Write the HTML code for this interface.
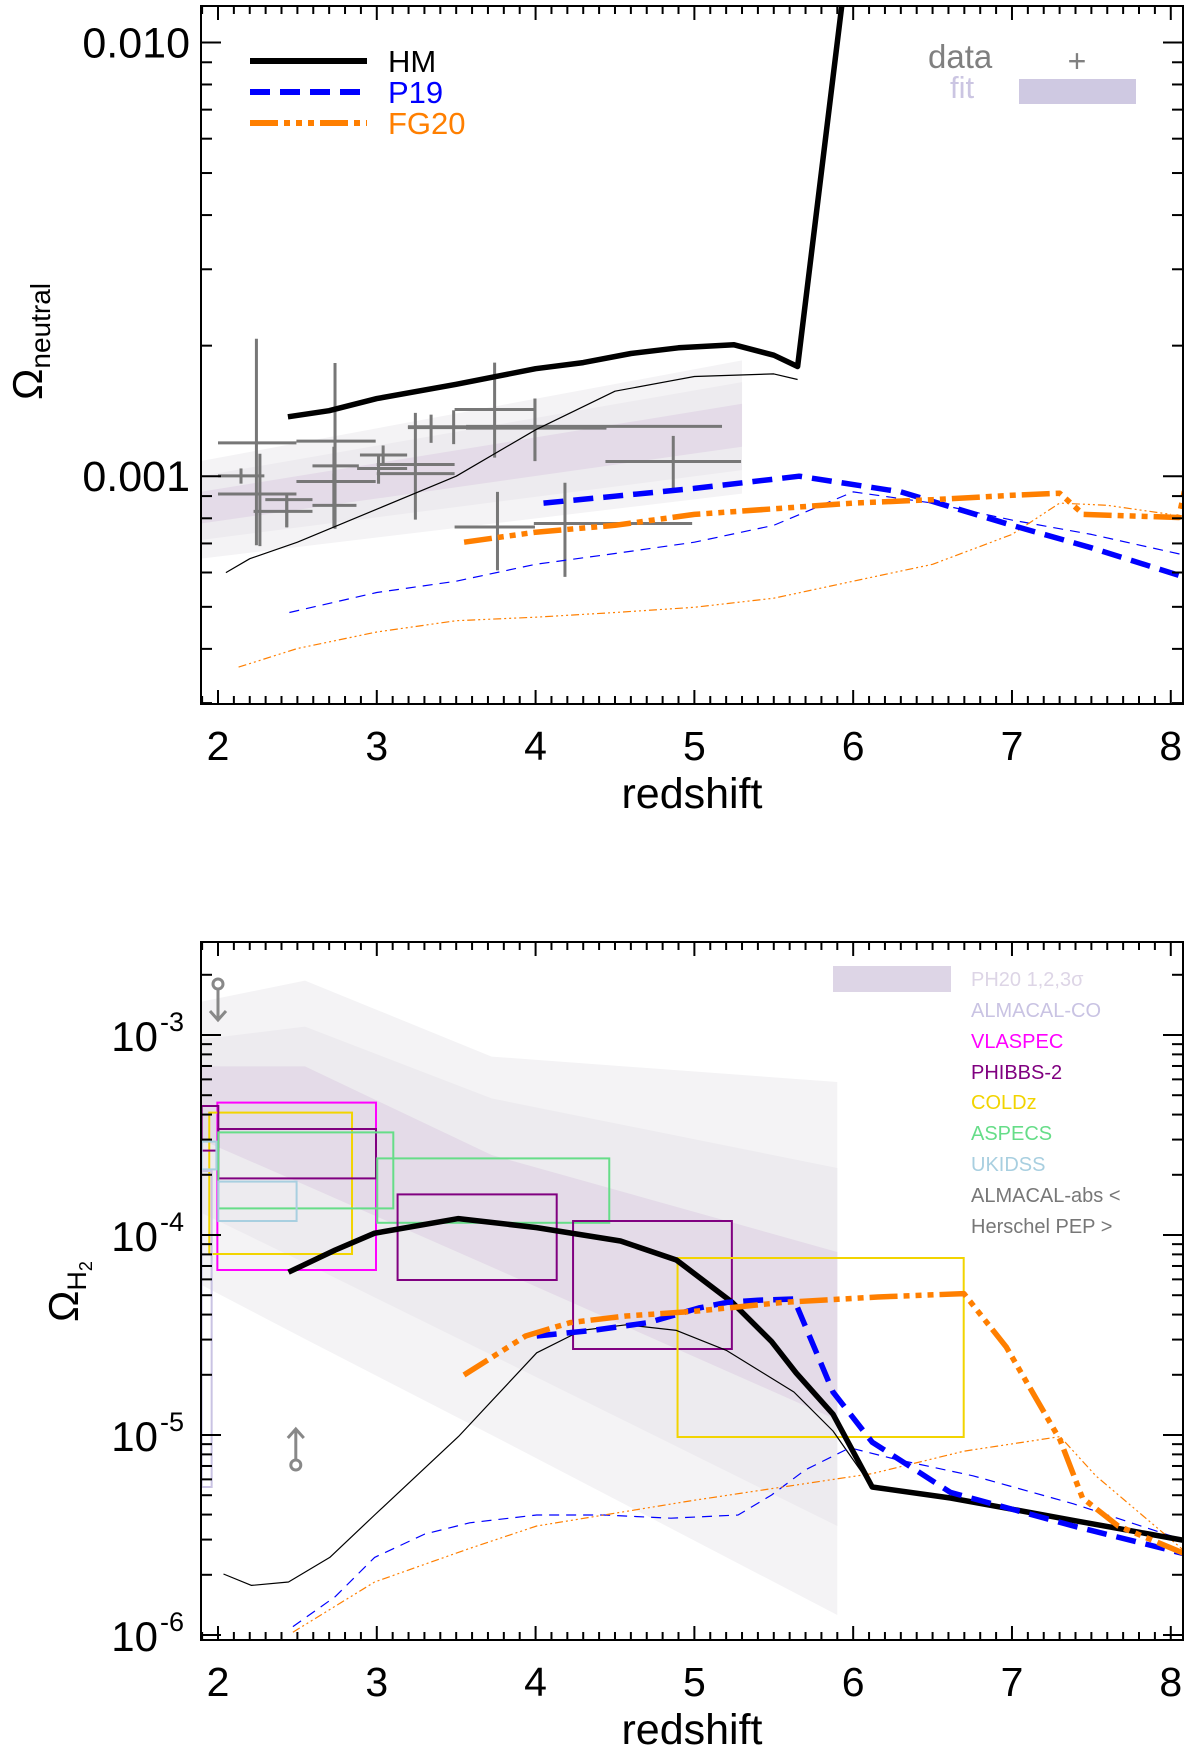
<!DOCTYPE html>
<html><head><meta charset="utf-8"><style>
html,body{margin:0;padding:0;background:#fff;}
svg{display:block;font-family:"Liberation Sans",Arial,sans-serif;}
</style></head><body>
<svg id="fig" width="1200" height="1749" viewBox="0 0 1200 1749" xmlns="http://www.w3.org/2000/svg">
<defs>
<clipPath id="clipTop"><rect x="201" y="6" width="982" height="698"/></clipPath>
<clipPath id="clipBot"><rect x="201" y="942" width="982" height="698"/></clipPath>
</defs>
<g id="top"></g>
<g id="bot"></g>
</svg>
<script>
// ---------- TOP PANEL DATA (z, log10 Omega_neutral) ----------
const hmZ=[2.44,2.7,3.0,3.5,4.0,4.3,4.6,4.9,5.25,5.5,5.65,6.0];
const hmV=[-2.863,-2.849,-2.821,-2.788,-2.752,-2.738,-2.717,-2.704,-2.697,-2.721,-2.747,-1.7];
const hmThinZ=[2.05,2.2,2.5,3.0,3.5,4.0,4.5,5.0,5.5,5.65];
const hmThinV=[-3.222,-3.19,-3.152,-3.076,-3.0,-2.893,-2.804,-2.77,-2.764,-2.777];
const p19Z=[4.05,4.5,5.0,5.66,6.3,7.0,7.5,8.1];
const p19V=[-3.062,-3.046,-3.028,-3.0,-3.036,-3.113,-3.165,-3.234];
const p19ThinZ=[2.45,3.0,3.5,4.0,4.5,5.0,5.5,6.0,6.5,7.0,7.5,8.1];
const p19ThinV=[-3.314,-3.268,-3.242,-3.203,-3.178,-3.152,-3.113,-3.036,-3.062,-3.101,-3.134,-3.183];
const fgZ=[3.55,4.0,4.5,5.0,5.5,6.0,6.5,7.0,7.3,7.45,8.05,8.1];
const fgV=[-3.152,-3.129,-3.113,-3.088,-3.075,-3.062,-3.054,-3.044,-3.039,-3.088,-3.095,-3.01];
const fgThinZ=[2.13,2.5,3.0,3.5,4.0,4.5,5.0,5.5,6.0,6.5,7.0,7.3,7.6,8.0];
const fgThinV=[-3.44,-3.397,-3.359,-3.333,-3.325,-3.314,-3.302,-3.281,-3.242,-3.203,-3.134,-3.062,-3.067,-3.088];
const fitZ=[1.89,5.3];
const fit3Lo=[-3.19,-3.04], fit3Hi=[-2.965,-2.733];
const fit2Lo=[-3.147,-2.986], fit2Hi=[-3.0,-2.783];
const fit1Lo=[-3.109,-2.932], fit1Hi=[-3.036,-2.833];
// data crosses: z, zlo, zhi, logOmega, lo, hi
const crossZ=[2.242,2.264,2.145,2.433,2.433,2.737,2.730,2.737,2.730,3.040,3.011,3.011,3.243,3.342,3.484,3.742,3.996,3.996,4.867,3.760,4.185];
const crossZlo=[2.0,2.0,2.0,2.298,2.224,2.494,2.494,2.595,2.595,2.894,2.876,3.0,3.0,3.196,3.196,3.562,3.490,3.562,4.44,3.490,3.989];
const crossZhi=[2.494,2.494,2.292,2.595,2.595,2.993,2.993,2.887,2.872,3.191,3.191,3.490,3.490,3.562,4.446,4.446,3.996,5.174,5.294,3.996,4.986];
const crossV=[-2.923,-3.041,-2.999,-3.054,-3.081,-2.919,-3.012,-2.976,-3.067,-2.951,-2.982,-2.994,-2.973,-2.886,-2.888,-2.889,-2.846,-2.885,-2.966,-3.117,-3.109];
const crossLo=[-3.159,-3.161,-3.017,-3.118,-3.117,-3.121,-3.101,-3.101,-3.117,-2.975,-3.017,-3.017,-3.1,-2.923,-2.926,-2.957,-2.965,-2.965,-3.030,-3.217,-3.232];
const crossHi=[-2.683,-2.948,-2.982,-3.044,-3.055,-2.739,-2.932,-2.871,-2.994,-2.929,-2.952,-2.963,-2.854,-2.858,-2.848,-2.738,-2.821,-2.821,-2.907,-3.036,-3.015];

// ---------- BOTTOM PANEL DATA (z, log10 Omega_H2) ----------
const bHmZ=[2.444,2.739,2.986,3.514,4.007,4.535,4.887,5.239,5.486,5.641,5.873,6.12,6.613,7.387,8.092];
const bHmV=[-4.186,-4.075,-3.991,-3.918,-3.963,-4.03,-4.125,-4.337,-4.533,-4.69,-4.896,-5.26,-5.315,-5.427,-5.528];
const bHmThinZ=[2.035,2.211,2.444,2.704,2.986,3.514,4.007,4.289,4.57,4.887,5.204,5.627,5.873,6.12,6.613,7.387,8.092];
const bHmThinV=[-5.695,-5.752,-5.735,-5.612,-5.4,-5.008,-4.589,-4.477,-4.449,-4.477,-4.578,-4.785,-4.98,-5.26,-5.315,-5.427,-5.528];
const bP19Z=[4.007,4.359,4.711,5.028,5.204,5.401,5.627,5.873,6.12,6.613,7.387,8.092];
const bP19V=[-4.505,-4.477,-4.438,-4.365,-4.337,-4.326,-4.32,-4.785,-5.036,-5.287,-5.455,-5.595];
const bP19ThinZ=[2.472,2.739,2.986,3.303,3.585,4.007,4.43,4.852,5.275,5.486,5.697,5.979,6.261,6.754,7.387,8.092];
const bP19ThinV=[-5.958,-5.808,-5.612,-5.495,-5.439,-5.4,-5.4,-5.416,-5.4,-5.3,-5.175,-5.064,-5.12,-5.204,-5.344,-5.528];
const bFgZ=[3.549,3.937,4.218,4.57,4.993,5.556,6.155,6.697,6.965,7.303,7.444,7.669,8.092];
const bFgV=[-4.70,-4.505,-4.438,-4.405,-4.382,-4.337,-4.31,-4.293,-4.561,-5.025,-5.315,-5.455,-5.595];
const bFgThinZ=[2.472,2.986,3.585,4.007,4.57,4.993,5.556,6.12,6.697,7.303,7.528,8.092];
const bFgThinV=[-5.986,-5.735,-5.567,-5.455,-5.382,-5.327,-5.26,-5.193,-5.081,-5.008,-5.204,-5.584];
const phZ=[1.897,2.548,3.723,5.9];
const ph3Hi=[-2.833,-2.728,-3.108,-3.235], ph3Lo=[-4.25,-4.52,-5.0,-5.9];
const ph2Hi=[-3.021,-2.958,-3.317,-3.665], ph2Lo=[-3.89,-4.14,-4.60,-5.455];
const ph1Hi=[-3.157,-3.157,-3.6,-4.085], ph1Lo=[-3.525,-3.75,-4.16,-4.925];
// boxes: survey, zlo, zhi, logLo, logHi
const boxSurvey=['VLASPEC','COLDz','PHIBBS-2','PHIBBS-2','ASPECS','ASPECS','UKIDSS','UKIDSS','ALMACAL-CO','PHIBBS-2','PHIBBS-2','COLDz'];
const boxZlo=[1.996,1.945,2.002,1.897,2.002,3.003,2.002,1.897,1.897,3.131,4.236,4.894];
const boxZhi=[2.995,2.844,2.995,2.002,3.104,4.464,2.495,1.99,1.96,4.133,5.236,6.696];
const boxLo=[-4.175,-4.095,-3.717,-3.578,-3.867,-3.939,-3.93,-3.672,-5.26,-4.225,-4.57,-5.01];
const boxHi=[-3.338,-3.388,-3.47,-3.355,-3.487,-3.617,-3.733,-3.533,-3.68,-3.797,-3.93,-4.115];
const limZ=[2.0,2.49];
const limV=[-2.745,-5.15];
const limDir=['down','up'];

const surveyColor={'VLASPEC':'#ff00ff','COLDz':'#f2d400','PHIBBS-2':'#800080','ASPECS':'#66dd88','UKIDSS':'#a8cfe0','ALMACAL-CO':'#c9c3e3'};
const NS='http://www.w3.org/2000/svg';
function mk(parent,tag,attrs){const e=document.createElementNS(NS,tag);for(const k in attrs)e.setAttribute(k,attrs[k]);parent.appendChild(e);return e;}

function makePanel(cfg){
  const x=z=>cfg.L+(z-cfg.z0)/(cfg.z1-cfg.z0)*(cfg.R-cfg.L);
  const y=v=>cfg.B-(v-cfg.v0)/(cfg.v1-cfg.v0)*(cfg.B-cfg.T);
  return {x,y};
}
const TOP={L:201,R:1183,T:6,B:704,z0:1.893,z1:8.077,v0:-3.525,v1:-1.916};
const BOT={L:201,R:1183,T:942,B:1640,z0:1.893,z1:8.077,v0:-6.025,v1:-2.535};
const A=makePanel(TOP), Bp=makePanel(BOT);

const gT=document.getElementById('top'), gB=document.getElementById('bot');
const plotT=mk(gT,'g',{'clip-path':'url(#clipTop)'});


const plotB=mk(gB,'g',{'clip-path':'url(#clipBot)'});



function band(g,ax,zs,lo,hi,fill,name){
  let pts=zs.map((z,i)=>ax.x(z)+','+ax.y(hi[i]));
  for(let i=zs.length-1;i>=0;i--)pts.push(ax.x(zs[i])+','+ax.y(lo[i]));
  const p=mk(g,'polygon',{points:pts.join(' '),fill:fill});
  
  
}
function line(g,ax,zs,vs,color,w,dash,name){
  const d=zs.map((z,i)=>(i?'L':'M')+ax.x(z).toFixed(1)+' '+ax.y(vs[i]).toFixed(1)).join(' ');
  const a={d:d,stroke:color,'stroke-width':w,fill:'none','stroke-linejoin':'round'};
  if(dash)a['stroke-dasharray']=dash;
  const p=mk(g,'path',a);
  
  
}
const DASH_P='20,10', DASH_F='28,6,6,6,6,6,6,6';
const DASH_P_T='10,7', DASH_F_T='8,3,2,3,2,3,2,3';

// ---- top content ----
band(plotT,A,fitZ,fit3Lo,fit3Hi,'#f4f3f5','fit-3sigma');
band(plotT,A,fitZ,fit2Lo,fit2Hi,'#edebef','fit-2sigma');
band(plotT,A,fitZ,fit1Lo,fit1Hi,'#e4dbe8','fit-1sigma');
for(let i=0;i<crossZ.length;i++){
  const g=mk(plotT,'g',{stroke:'#777','stroke-width':3});
  
  
  mk(g,'line',{x1:A.x(crossZlo[i]),x2:A.x(crossZhi[i]),y1:A.y(crossV[i]),y2:A.y(crossV[i])});
  mk(g,'line',{x1:A.x(crossZ[i]),x2:A.x(crossZ[i]),y1:A.y(crossLo[i]),y2:A.y(crossHi[i])});
}
line(plotT,A,hmThinZ,hmThinV,'#000',1.2,null,'hm-thin-line');
line(plotT,A,p19ThinZ,p19ThinV,'#0000ff',1.2,DASH_P_T,'p19-thin-line');
line(plotT,A,fgThinZ,fgThinV,'#ff7f00',1.2,DASH_F_T,'fg20-thin-line');
line(plotT,A,hmZ,hmV,'#000',5.5,null,'hm-line');
line(plotT,A,p19Z,p19V,'#0000ff',5.5,DASH_P,'p19-line');
line(plotT,A,fgZ,fgV,'#ff7f00',5.5,DASH_F,'fg20-line');

// ---- bottom content ----
band(plotB,Bp,phZ,ph3Lo,ph3Hi,'#f4f3f5','ph20-3sigma');
band(plotB,Bp,phZ,ph2Lo,ph2Hi,'#edebef','ph20-2sigma');
band(plotB,Bp,phZ,ph1Lo,ph1Hi,'#e4dbe8','ph20-1sigma');
for(let i=0;i<boxZlo.length;i++){
  const r=mk(plotB,'rect',{x:Bp.x(boxZlo[i]),y:Bp.y(boxHi[i]),width:Bp.x(boxZhi[i])-Bp.x(boxZlo[i]),height:Bp.y(boxLo[i])-Bp.y(boxHi[i]),fill:'none',stroke:surveyColor[boxSurvey[i]],'stroke-width':2});
  
  
}
for(let i=0;i<limZ.length;i++){
  const g=mk(plotB,'g',{stroke:'#888','stroke-width':3,fill:'none'});
  
  
  const cx=Bp.x(limZ[i]), cy=Bp.y(limV[i]), s=limDir[i]==='down'?1:-1;
  mk(g,'circle',{cx:cx,cy:cy,r:5});
  mk(g,'line',{x1:cx,y1:cy+s*5,x2:cx,y2:cy+s*36});
  mk(g,'polyline',{points:(cx-8)+','+(cy+s*27)+' '+cx+','+(cy+s*36)+' '+(cx+8)+','+(cy+s*27)});
}
line(plotB,Bp,bHmThinZ,bHmThinV,'#000',1.2,null,'hm-thin-line');
line(plotB,Bp,bP19ThinZ,bP19ThinV,'#0000ff',1.2,DASH_P_T,'p19-thin-line');
line(plotB,Bp,bFgThinZ,bFgThinV,'#ff7f00',1.2,DASH_F_T,'fg20-thin-line');
line(plotB,Bp,bHmZ,bHmV,'#000',5.5,null,'hm-line');
line(plotB,Bp,bP19Z,bP19V,'#0000ff',5.5,DASH_P,'p19-line');
line(plotB,Bp,bFgZ,bFgV,'#ff7f00',5.5,DASH_F,'fg20-line');

// ---- axes ----
const xTicks=[2,3,4,5,6,7,8];
function axes(g,cfg,ax,yMajors,yLabelFn){
  const f=mk(g,'rect',{x:cfg.L,y:cfg.T,width:cfg.R-cfg.L,height:cfg.B-cfg.T,fill:'none',stroke:'#000','stroke-width':2});
  
  
  const tk=mk(g,'g',{stroke:'#000','stroke-width':2});
  
  
  for(let k=19;k<=81;k++){
    const z=k/10, X=ax.x(z); if(X<cfg.L||X>cfg.R)continue;
    const len=(k%10===0)?14:8;
    mk(tk,'line',{x1:X,x2:X,y1:cfg.B,y2:cfg.B-len});
    mk(tk,'line',{x1:X,x2:X,y1:cfg.T,y2:cfg.T+len});
  }
  for(let d=Math.floor(cfg.v0);d<=Math.ceil(cfg.v1);d++){
    for(let m=1;m<=9;m++){
      const v=d+Math.log10(m); if(v<cfg.v0||v>cfg.v1)continue;
      const Y=ax.y(v), len=m===1?20:11;
      mk(tk,'line',{x1:cfg.L,x2:cfg.L+len,y1:Y,y2:Y});
      mk(tk,'line',{x1:cfg.R,x2:cfg.R-len,y1:Y,y2:Y});
    }
  }
  xTicks.forEach(z=>{
    const t=mk(g,'text',{x:ax.x(z),y:cfg.B+56,'font-size':41,'text-anchor':'middle',fill:'#000'});
    t.textContent=z;
    
    
  });
  const xt=mk(g,'text',{x:(cfg.L+cfg.R)/2,y:cfg.B+104,'font-size':43,'text-anchor':'middle',fill:'#000'});
  xt.textContent='redshift';
  
  
  yMajors.forEach(v=>yLabelFn(g,v,ax.y(v)));
}
const topYTicks=[-3,-2], topYLabels=['0.001','0.010'];
axes(gT,TOP,A,topYTicks,(g,v,Y)=>{
  const t=mk(g,'text',{x:190,y:Y+15,'font-size':43,'text-anchor':'end',fill:'#000'});
  t.textContent=topYLabels[topYTicks.indexOf(v)];
  
  
});
const botYTicks=[-6,-5,-4,-3];
axes(gB,BOT,Bp,botYTicks,(g,v,Y)=>{
  const t=mk(g,'text',{x:158,y:Y+16,'font-size':42,'text-anchor':'end',fill:'#000'});
  t.textContent='10';
  
  
  const s=mk(g,'text',{x:160,y:Y-4,'font-size':27,'text-anchor':'start',fill:'#000'});
  s.textContent=String(v);
  
  
});

// ---- legends ----
const lgNames=['HM','P19','FG20'], lgColors=['#000','#0000ff','#ff7f00'], lgDash=[null,DASH_P,DASH_F];
lgNames.forEach((n,i)=>{
  const Y=61+i*31;
  const g=mk(gT,'g',{});
  
  
  const a={x1:250,x2:367,y1:Y,y2:Y,stroke:lgColors[i],'stroke-width':6};
  if(lgDash[i])a['stroke-dasharray']=lgDash[i];
  mk(g,'line',a);
  const t=mk(g,'text',{x:388,y:Y+11,'font-size':31,fill:lgColors[i]});
  t.textContent=n;
});
</script>
<svg style="position:absolute;left:0;top:0" width="1200" height="1749" xmlns="http://www.w3.org/2000/svg" font-family="Liberation Sans, Arial, sans-serif">
<text x="928" y="68" font-size="33" fill="#808080">data</text>
<text x="1077" y="72" font-size="32" fill="#808080" text-anchor="middle">+</text>
<text x="950" y="98" font-size="31" fill="#cbc5e2">fit</text>
<rect x="1019" y="79" width="117" height="25" fill="#cfc9e2"/>
<g transform="translate(42,400) rotate(-90)">
<text x="0" y="0" font-size="42" fill="#000">Ω<tspan font-size="28" dy="8">neutral</tspan></text>
</g>
<g transform="translate(78,1322) rotate(-90)">
<text x="0" y="0" font-size="42" fill="#000">Ω<tspan font-size="27" dy="8">H</tspan><tspan font-size="18" dy="6">2</tspan></text>
</g>
<rect x="833" y="966" width="118" height="26" fill="#ddd5e6"/>
<g font-size="20">
<text x="971" y="986" fill="#ddd5e6">PH20 1,2,3σ</text>
<text x="971" y="1017" fill="#c9c3e3">ALMACAL-CO</text>
<text x="971" y="1048" fill="#ff00ff">VLASPEC</text>
<text x="971" y="1079" fill="#800080">PHIBBS-2</text>
<text x="971" y="1109" fill="#f2d400">COLDz</text>
<text x="971" y="1140" fill="#66dd88">ASPECS</text>
<text x="971" y="1171" fill="#a8cfe0">UKIDSS</text>
<text x="971" y="1202" fill="#777">ALMACAL-abs  &lt;</text>
<text x="971" y="1233" fill="#777">Herschel PEP  &gt;</text>
</g>
</svg>
</body></html>
